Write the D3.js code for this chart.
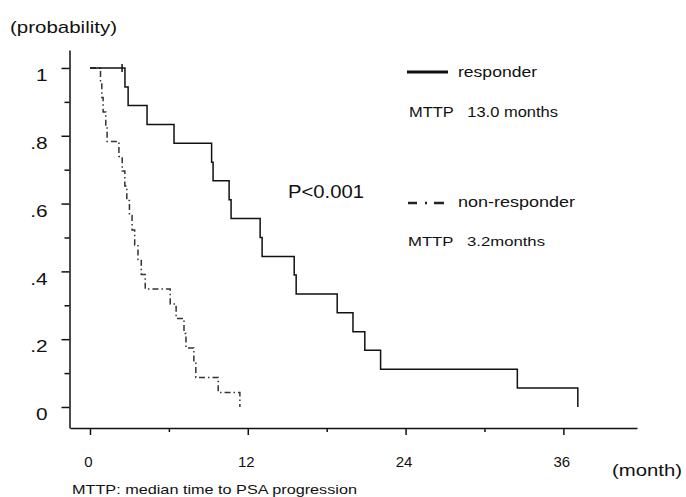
<!DOCTYPE html>
<html lang='en'>
    <head>
        <script src="https://d3js.org/d3.v7.min.js"></script>
    </head>
    <style>
        body{
            margin:0px;
            padding:0px;
            background-color:white;
        }
        svg{
            display:block;
        }
        text{
            font-family:"Liberation Sans", Arial, sans-serif;
            fill:#111;
            white-space:pre;
        }
        .axis path, .axis line{
            stroke:#111;
            stroke-width:1.5;
        }
    </style>
    <body>
        <svg id="km" width="686" height="497"></svg>
        <script>
            // responder: step times (months) and survival after each step
            const respTime=[0,2.66,2.9,4.34,6.39,9.25,9.36,10.58,10.73,12.94,13.09,15.53,15.68,18.8,20.0,20.9,22.1,32.5,37.1];
            const respSurv=[1,.944,.889,.833,.778,.722,.667,.611,.556,.5,.444,.389,.333,.278,.222,.167,.111,.056,0];
            const respCensor=[2.44];

            // non-responder
            const nonTime=[0,0.8,0.9,1.0,1.2,1.3,2.2,2.45,2.65,2.8,3.0,3.2,3.4,3.65,3.9,4.2,6.1,6.55,7.15,7.3,7.9,8.05,9.75,11.4];
            const nonSurv=[1,.957,.913,.870,.826,.783,.739,.696,.652,.609,.565,.522,.478,.435,.391,.348,.304,.261,.217,.174,.130,.087,.043,0];

            const xTicks=[0,12,24,36];
            const xMinor=[6,18,30];
            const yTicks=[0,.2,.4,.6,.8,1];
            const yTickLabels=['0','.2','.4','.6','.8','1'];
            const yMinor=[.1,.3,.5,.7,.9];

            const svg=d3.select('#km');

            const xScale=d3.scaleLinear()
                           .domain([-1.52,41.6])
                           .range([70,637]);
            const yScale=d3.scaleLinear()
                           .domain([-0.062,1.053])
                           .range([428,50]);

            // x axis
            svg.append('g')
               .attr('class','axis')
               .attr('transform','translate(0,428)')
               .call(d3.axisBottom(xScale).tickValues(xMinor).tickSize(4).tickSizeOuter(0).tickFormat(''));
            const xAx=svg.append('g')
               .attr('class','axis')
               .attr('transform','translate(0,428)')
               .call(d3.axisBottom(xScale).tickValues(xTicks).tickSize(7).tickSizeOuter(0).tickPadding(21));
            xAx.select('.domain').remove();
            xAx.selectAll('text')
               .attr('font-size','15px')
               .attr('dx','-2px')
               .style('font-family','"Liberation Sans", Arial, sans-serif');

            // y axis
            svg.append('g')
               .attr('class','axis')
               .attr('transform','translate(69.5,0)')
               .call(d3.axisLeft(yScale).tickValues(yMinor).tickSize(5).tickSizeOuter(0).tickFormat(''));
            const yAx=svg.append('g')
               .attr('class','axis')
               .attr('transform','translate(69.5,0)')
               .call(d3.axisLeft(yScale).tickValues(yTicks).tickSize(8).tickSizeOuter(0).tickPadding(14)
                      .tickFormat((d,i)=>yTickLabels[i]));
            yAx.select('.domain').remove();
            yAx.selectAll('text')
               .attr('font-size','16px')
               .attr('dy','0.8em')
               .style('font-family','"Liberation Sans", Arial, sans-serif')
               .each(function(){
                   // the scanned labels are stretched sideways
                   const w=this.getComputedTextLength();
                   d3.select(this).attr('textLength',w*1.3).attr('lengthAdjust','spacingAndGlyphs');
               });

            // curves
            const line=d3.line()
                         .x(d=>xScale(d[0]))
                         .y(d=>yScale(d[1]))
                         .curve(d3.curveStepAfter);

            svg.append('path')
               .datum(nonTime.map((t,i)=>[t,nonSurv[i]]))
               .attr('d',line)
               .attr('fill','none')
               .attr('stroke','#333')
               .attr('stroke-width',1.5)
               .attr('stroke-dasharray','6,3,1.5,3');

            svg.append('path')
               .datum(respTime.map((t,i)=>[t,respSurv[i]]))
               .attr('d',line)
               .attr('fill','none')
               .attr('stroke','#111')
               .attr('stroke-width',1.5);

            svg.selectAll('.censor')
               .data(respCensor)
               .enter()
               .append('line')
               .attr('class','censor')
               .attr('x1',d=>xScale(d))
               .attr('x2',d=>xScale(d))
               .attr('y1',yScale(1)-4)
               .attr('y2',yScale(1)+4)
               .attr('stroke','#111')
               .attr('stroke-width',1.5);

            // legend
            svg.append('line')
               .attr('x1',407).attr('x2',448).attr('y1',72).attr('y2',72)
               .attr('stroke','#111').attr('stroke-width',3);
            svg.append('line')
               .attr('x1',408).attr('x2',444).attr('y1',203).attr('y2',203)
               .attr('stroke','#222').attr('stroke-width',2.5)
               .attr('stroke-dasharray','9,8,2,7,10');

            function label(txt,x,y,size,len){
                svg.append('text')
                   .attr('x',x)
                   .attr('y',y)
                   .attr('font-size',size+'px')
                   .attr('textLength',len)
                   .attr('lengthAdjust','spacingAndGlyphs')
                   .text(txt);
            }
            label('(probability)',10,33,17,107);
            label('(month)',612,476,17,70);
            label('MTTP: median time to PSA progression',72,494,13,285);
            label('responder',458,77,15,79);
            label('MTTP   13.0 months',409,117,14,149);
            label('P<0.001',288,198,18,76);
            label('non-responder',458,207,15,117);
            label('MTTP   3.2months',408,246,13.5,137);
        </script>
    </body>
</html>
